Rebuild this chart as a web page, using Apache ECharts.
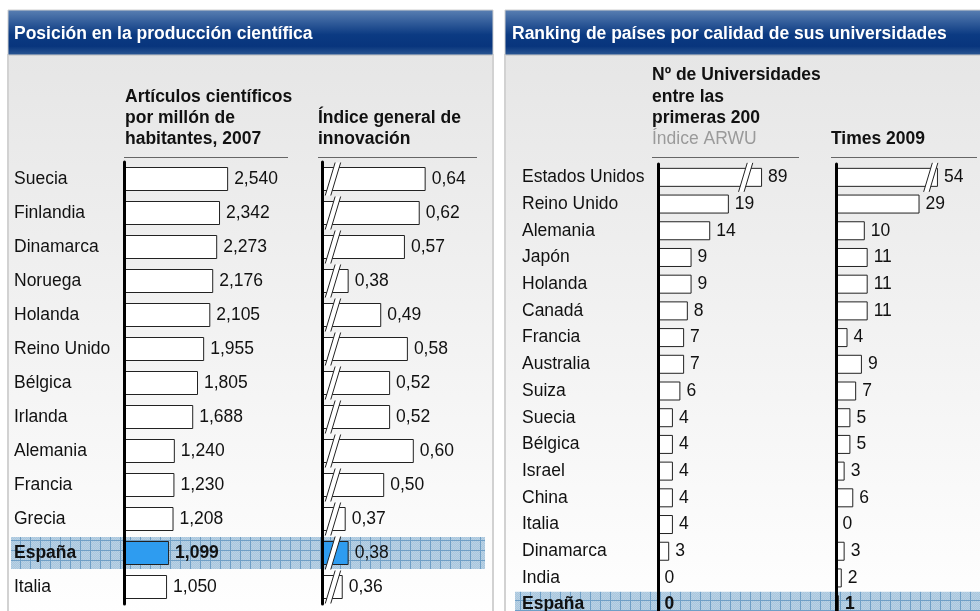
<!DOCTYPE html>
<html lang="es">
<head>
    <meta charset="UTF-8" />
    <title>Producción científica y universidades</title>
    <script src="https://cdn.jsdelivr.net/npm/echarts@6/dist/echarts.min.js"></script>
    <style type="text/css">
        html, body { margin: 0; padding: 0; background: #fff; overflow: hidden; }
        #chart { width: 980px; height: 640px; }
    </style>
</head>
<body>
    <div id="chart"></div>
    <script type="text/javascript">
        // datos
        var countriesA = ['Suecia', 'Finlandia', 'Dinamarca', 'Noruega', 'Holanda', 'Reino Unido', 'Bélgica', 'Irlanda', 'Alemania', 'Francia', 'Grecia', 'España', 'Italia'];
        var articles = [2540, 2342, 2273, 2176, 2105, 1955, 1805, 1688, 1240, 1230, 1208, 1099, 1050];
        var innovation = [0.64, 0.62, 0.57, 0.38, 0.49, 0.58, 0.52, 0.52, 0.60, 0.50, 0.37, 0.38, 0.36];

        var countriesB = ['Estados Unidos', 'Reino Unido', 'Alemania', 'Japón', 'Holanda', 'Canadá', 'Francia', 'Australia', 'Suiza', 'Suecia', 'Bélgica', 'Israel', 'China', 'Italia', 'Dinamarca', 'India', 'España'];
        var arwu = [89, 19, 14, 9, 9, 8, 7, 7, 6, 4, 4, 4, 4, 4, 3, 0, 0];
        var times = [54, 29, 10, 11, 11, 11, 4, 9, 7, 5, 5, 3, 6, 0, 3, 2, 1];

        // barras cortadas: largo dibujado y posición del corte
        var innovBreakAt = 0.327;
        var arwuCap = 27.9, arwuBreakAt = 23.5;
        var timesCap = 35.4, timesBreakAt = 32.9;

        var highlight = 'España';
        var FONT = '"Liberation Sans", Arial, Helvetica, sans-serif';
        var FS = 17.5;

        var chart = echarts.init(document.getElementById('chart'));

        function fmtThousands(v) { return v.toLocaleString('en-US'); }
        function fmtDecimal(v) { return v.toFixed(2).replace('.', ','); }
        function fmtInt(v) { return String(v); }

        // serie de barras
        function barSeries(idx, names, values, cap, fmt, barW, boldHl, hlColor) {
            return {
                type: 'bar',
                xAxisIndex: idx,
                yAxisIndex: idx,
                barWidth: barW,
                itemStyle: { color: '#fff', borderColor: '#222', borderWidth: 1 },
                label: {
                    show: true, position: 'right', distance: 6,
                    fontFamily: FONT, fontSize: FS, color: '#111',
                    formatter: function (p) { return fmt(values[p.dataIndex]); }
                },
                data: values.map(function (v, i) {
                    var item = { value: cap ? Math.min(v, cap) : v };
                    if (names[i] === highlight) {
                        if (hlColor) item.itemStyle = { color: hlColor };
                        if (boldHl) item.label = { fontWeight: 'bold' };
                    }
                    return item;
                })
            };
        }

        // marcas de corte (doble barra)
        function breakSeries(idx, data, span) {
            return {
                type: 'custom',
                xAxisIndex: idx,
                yAxisIndex: idx,
                z: 4,
                silent: true,
                data: data,
                renderItem: function (params, api) {
                    var c = api.coord([api.value(0), api.value(1)]);
                    var run = span * 0.3, gap = 5.5;
                    var x0 = c[0] - gap / 2;
                    var yb = c[1] + span / 2, yt = c[1] - span / 2;
                    return {
                        type: 'group',
                        children: [
                            { type: 'polygon', shape: { points: [[x0 - run / 2, yb], [x0 + run / 2, yt], [x0 + run / 2 + gap, yt], [x0 - run / 2 + gap, yb]] }, style: { fill: '#fff' } },
                            { type: 'line', shape: { x1: x0 - run / 2, y1: yb, x2: x0 + run / 2, y2: yt }, style: { stroke: '#222', lineWidth: 1 } },
                            { type: 'line', shape: { x1: x0 - run / 2 + gap, y1: yb, x2: x0 + run / 2 + gap, y2: yt }, style: { stroke: '#222', lineWidth: 1 } }
                        ]
                    };
                }
            };
        }

        function yAxis(idx, names, showLabel, margin) {
            return {
                type: 'category', gridIndex: idx, data: names, inverse: true, z: 5,
                axisLine: { show: true, lineStyle: { color: '#000', width: 3 } },
                axisTick: { show: false },
                axisLabel: {
                    show: showLabel, align: 'left', margin: margin,
                    fontFamily: FONT, fontSize: FS, color: '#111',
                    formatter: function (v) { return v === highlight ? '{b|' + v + '}' : v; },
                    rich: { b: { fontFamily: FONT, fontSize: FS, fontWeight: 'bold', color: '#111' } }
                }
            };
        }

        function xAxis(idx, min, max) {
            return { type: 'value', gridIndex: idx, min: min, max: max, show: false };
        }

        var rowsA = { top: 162, height: 442 };
        var rowsB = { top: 164, height: 454 };

        var option = {
            backgroundColor: '#fff',
            animation: false,
            grid: [
                { left: 124, width: 164, top: rowsA.top, height: rowsA.height },
                { left: 322, width: 154, top: rowsA.top, height: rowsA.height },
                { left: 658, width: 141, top: rowsB.top, height: rowsB.height },
                { left: 836, width: 144, top: rowsB.top, height: rowsB.height }
            ],
            xAxis: [
                xAxis(0, 0, 4000),
                xAxis(1, 0.29, 0.81),
                xAxis(2, 0, 37.8),
                xAxis(3, 0, 50)
            ],
            yAxis: [
                yAxis(0, countriesA, true, 110),
                yAxis(1, countriesA, false, 0),
                yAxis(2, countriesB, true, 136),
                yAxis(3, countriesB, false, 0)
            ],
            series: [
                barSeries(0, countriesA, articles, null, fmtThousands, 24, true, '#2e9cf0'),
                barSeries(1, countriesA, innovation, null, fmtDecimal, 24, false, '#2e9cf0'),
                barSeries(2, countriesB, arwu, arwuCap, fmtInt, 19, true, null),
                barSeries(3, countriesB, times, timesCap, fmtInt, 19, true, null),
                breakSeries(1, countriesA.map(function (c, i) { return [innovBreakAt, i]; }), 33),
                breakSeries(2, arwu.map(function (v, i) { return v > arwuCap ? [arwuBreakAt, i] : null; }).filter(Boolean), 29),
                breakSeries(3, times.map(function (v, i) { return v > timesCap ? [timesBreakAt, i] : null; }).filter(Boolean), 29)
            ]
        };
        chart.setOption(option);

        // patrón de cuadrícula para la fila destacada
        function bandPattern() {
            var c = document.createElement('canvas');
            c.width = 10; c.height = 10;
            var g = c.getContext('2d');
            g.fillStyle = '#a9c6dd';
            g.fillRect(0, 0, 10, 10);
            g.fillStyle = '#b9d2e5';
            for (var y = 0; y < 10; y++) {
                for (var x = y % 2; x < 10; x += 2) g.fillRect(x, y, 1, 1);
            }
            g.fillStyle = '#6f9fc6';
            g.fillRect(0, 0, 10, 1);
            g.fillRect(0, 0, 1, 10);
            return c;
        }
        var pat = { image: bandPattern(), repeat: 'repeat' };

        var yHlA = chart.convertToPixel({ yAxisIndex: 0 }, highlight);
        var yHlB = chart.convertToPixel({ yAxisIndex: 2 }, highlight);
        var pitchA = rowsA.height / countriesA.length;
        var pitchB = rowsB.height / countriesB.length;

        var headerFill = new echarts.graphic.LinearGradient(0, 0, 0, 1, [
            { offset: 0, color: '#5a80b3' },
            { offset: 0.55, color: '#0b3a82' },
            { offset: 0.8, color: '#08357d' },
            { offset: 1, color: '#2d5994' }
        ]);
        var panelFill = new echarts.graphic.LinearGradient(0, 0, 0, 1, [
            { offset: 0, color: '#e6e6e6' },
            { offset: 0.95, color: '#ffffff' },
            { offset: 1, color: '#ffffff' }
        ]);

        function txt(x, y, s, opts) {
            opts = opts || {};
            return {
                type: 'text', x: x, y: y, z: 1,
                style: {
                    text: s, fill: opts.color || '#111',
                    font: (opts.bold === false ? '' : 'bold ') + FS + 'px ' + FONT,
                    textVerticalAlign: 'middle'
                }
            };
        }
        function hline(x1, x2, y) {
            return { type: 'line', z: 1, shape: { x1: x1, y1: y, x2: x2, y2: y }, style: { stroke: '#666', lineWidth: 1 } };
        }

        chart.setOption({
            graphic: [{
                elements: [
                    // paneles
                    { type: 'rect', z: 0, shape: { x: 8, y: 55, width: 485, height: 600 }, style: { fill: panelFill, stroke: '#d2d2d2', lineWidth: 2 } },
                    { type: 'rect', z: 0, shape: { x: 505, y: 55, width: 490, height: 600 }, style: { fill: panelFill, stroke: '#d2d2d2', lineWidth: 2 } },
                    { type: 'rect', z: 0, shape: { x: 8, y: 10, width: 485, height: 45 }, style: { fill: headerFill, stroke: '#cfcfcf', lineWidth: 1 } },
                    { type: 'rect', z: 0, shape: { x: 505, y: 10, width: 490, height: 45 }, style: { fill: headerFill, stroke: '#cfcfcf', lineWidth: 1 } },
                    txt(14, 34, 'Posición en la producción científica', { color: '#fff' }),
                    txt(512, 34, 'Ranking de países por calidad de sus universidades', { color: '#fff' }),

                    // filas destacadas
                    { type: 'rect', z: 1, shape: { x: 11, y: yHlA - pitchA / 2 + 1, width: 474, height: pitchA - 2 }, style: { fill: pat } },
                    { type: 'rect', z: 1, shape: { x: 515, y: yHlB - pitchB / 2 + 0.5, width: 470, height: pitchB }, style: { fill: pat } },

                    // títulos de columnas
                    txt(125, 97, 'Artículos científicos'),
                    txt(125, 118, 'por millón de'),
                    txt(125, 139, 'habitantes, 2007'),
                    txt(318, 118, 'Índice general de'),
                    txt(318, 139, 'innovación'),
                    txt(652, 75, 'Nº de Universidades'),
                    txt(652, 97, 'entre las'),
                    txt(652, 118, 'primeras 200'),
                    txt(652, 139, 'Índice ARWU', { bold: false, color: '#9a9a9a' }),
                    txt(831, 139, 'Times 2009'),

                    hline(124, 288, 157.5),
                    hline(318, 477, 157.5),
                    hline(652, 799, 157.5),
                    hline(831, 977, 157.5)
                ]
            }]
        });
    </script>
</body>
</html>
